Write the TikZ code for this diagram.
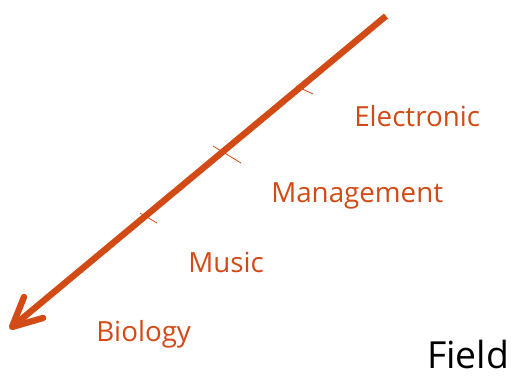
\documentclass[tikz,border=0pt]{standalone}
\usepackage{fontspec}
\setmainfont{Open Sans}
\definecolor{axisorange}{RGB}{210,74,22}
\begin{document}
\begin{tikzpicture}[x=0.75pt,y=-0.75pt,
  lbl/.style={anchor=base west,inner sep=0pt,text=axisorange,font=\fontsize{20.8}{24}\selectfont},
  tickmark/.style={draw=axisorange,line width=0.6pt},
  axisline/.style={draw=axisorange,line width=4.8pt}]
\useasboundingbox (0,0) rectangle (512,376);
\coordinate (start) at (386,16);
\coordinate (tip) at (12,327);
\coordinate (armA) at (43,318);
\coordinate (armB) at (24,297);
\draw[axisline] (start) -- (tip);
\draw[axisline,line cap=round,line join=round] (armA) -- (tip) -- (armB);
\coordinate (t1a) at (296,86); \coordinate (t1b) at (313,94);
\coordinate (t2a) at (213,146); \coordinate (t2b) at (241,163);
\coordinate (t3a) at (140,213); \coordinate (t3b) at (157,223);
\draw[tickmark] (t1a) -- (t1b);
\draw[tickmark] (t2a) -- (t2b);
\draw[tickmark] (t3a) -- (t3b);
\node[lbl] (elec) at (354,126) {Electronic};
\node[lbl] (mgmt) at (271,202) {Management};
\node[lbl] (music) at (188,272) {Music};
\node[lbl] (bio) at (96,341) {Biology};
\node[anchor=base west,inner sep=0pt,font=\fontsize{28}{32}\selectfont] (field) at (427,368) {Field};
\end{tikzpicture}
\end{document}
